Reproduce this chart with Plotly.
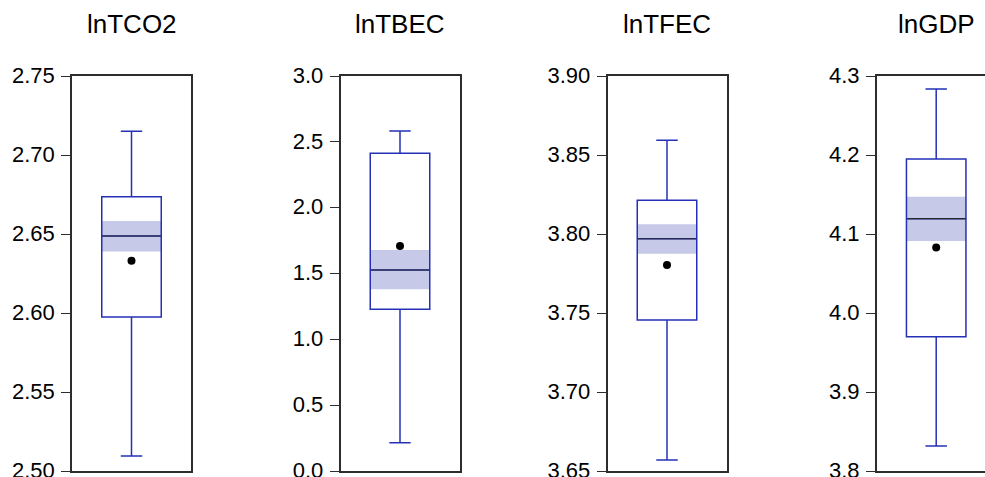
import plotly.graph_objects as go

# ---- data ----
titles = ["lnTCO2", "lnTBEC", "lnTFEC", "lnGDP"]
lower_whisker = [2.5095, 0.215, 3.657, 3.8315]
q1_vals = [2.5975, 1.228, 3.7456, 3.970]
median_vals = [2.6487, 1.527, 3.797, 4.1194]
q3_vals = [2.6735, 2.413, 3.8213, 4.195]
upper_whisker = [2.715, 2.582, 3.8593, 4.2835]
mean_vals = [2.633, 1.709, 3.7804, 4.083]
band_lo = [2.639, 1.380, 3.7875, 4.091]
band_hi = [2.6582, 1.678, 3.8061, 4.147]
y_ranges = [[2.50, 2.75], [0.0, 3.0], [3.65, 3.90], [3.8, 4.3]]
tick_vals = [
    [2.50, 2.55, 2.60, 2.65, 2.70, 2.75],
    [0.0, 0.5, 1.0, 1.5, 2.0, 2.5, 3.0],
    [3.65, 3.70, 3.75, 3.80, 3.85, 3.90],
    [3.8, 3.9, 4.0, 4.1, 4.2, 4.3],
]
tick_fmt = [".2f", ".1f", ".2f", ".1f"]

# ---- style ----
W, H = 985, 477
FONT = "Liberation Sans, Arial, sans-serif"
BOX_COLOR = "rgb(36,48,182)"
BAND_COLOR = "rgb(198,201,231)"
FRAME_COLOR = "rgb(45,45,45)"
frame_left_px = [72, 340.5, 607.5, 876.7]
frame_w_px = 119.0
top_px, bottom_px = 76, 471
BOX_W = 0.5

fig = go.Figure()
layout = dict(
    width=W, height=H, margin=dict(l=0, r=0, t=0, b=0, autoexpand=False),
    paper_bgcolor="white", plot_bgcolor="white", showlegend=False,
    font=dict(family=FONT, color="black"),
)
annotations = []
for i in range(4):
    n = "" if i == 0 else str(i + 1)
    xa, ya = "x" + n, "y" + n
    x0 = frame_left_px[i] / W
    x1 = min((frame_left_px[i] + frame_w_px) / W, 1.0)
    vis = (min(frame_left_px[i] + frame_w_px, W) - frame_left_px[i]) / frame_w_px
    # confidence band around the median
    fig.add_trace(go.Bar(
        x=[0], y=[band_hi[i] - band_lo[i]], base=[band_lo[i]], width=BOX_W,
        marker=dict(color=BAND_COLOR, line=dict(width=0)),
        xaxis=xa, yaxis=ya, hoverinfo="skip"))
    # box and whiskers
    fig.add_trace(go.Box(
        x=[0], q1=[q1_vals[i]], median=[median_vals[i]], q3=[q3_vals[i]],
        lowerfence=[lower_whisker[i]], upperfence=[upper_whisker[i]],
        width=BOX_W, whiskerwidth=0.36,
        line=dict(color=BOX_COLOR, width=1.5), fillcolor="rgba(0,0,0,0)",
        boxpoints=False, xaxis=xa, yaxis=ya))
    # median line (dark)
    fig.add_trace(go.Box(
        x=[0], q1=[median_vals[i]], median=[median_vals[i]], q3=[median_vals[i]],
        lowerfence=[median_vals[i]], upperfence=[median_vals[i]],
        width=BOX_W * 0.98, whiskerwidth=0,
        line=dict(color="rgb(40,40,40)", width=1.1), fillcolor="rgba(0,0,0,0)",
        boxpoints=False, xaxis=xa, yaxis=ya))
    # mean dot
    fig.add_trace(go.Scatter(
        x=[0], y=[mean_vals[i]], mode="markers",
        marker=dict(color="black", size=8), xaxis=xa, yaxis=ya))

    last = (i == 3)
    layout["xaxis" + n] = dict(
        domain=[x0, x1], range=[-0.5, -0.5 + vis], showticklabels=False,
        ticks="", showgrid=False, zeroline=False, fixedrange=True,
        showline=True, linecolor=FRAME_COLOR, linewidth=1.5, mirror=True,
        anchor=ya, automargin=False)
    layout["yaxis" + n] = dict(
        domain=[1 - bottom_px / H, 1 - top_px / H], range=y_ranges[i],
        tickvals=tick_vals[i], tickformat=tick_fmt[i],
        ticks="outside", ticklen=9, tickwidth=1.3, tickcolor=FRAME_COLOR,
        tickfont=dict(size=22, family=FONT, color="black"),
        ticklabelstandoff=2, ticklabelshift=-1,
        ticklabeloverflow="allow", automargin=False,
        showgrid=False, zeroline=False, fixedrange=True,
        showline=True, linecolor=FRAME_COLOR, linewidth=1.5,
        mirror=(not last), anchor=xa)
    annotations.append(dict(
        text=titles[i], xref="paper", yref="paper",
        x=(frame_left_px[i] + frame_w_px / 2) / W, y=1 - 24.5 / H,
        xanchor="center", yanchor="middle", showarrow=False,
        font=dict(size=26, family=FONT, color="black")))

layout["annotations"] = annotations
fig.update_layout(**layout)
fig.write_html("out.html")
